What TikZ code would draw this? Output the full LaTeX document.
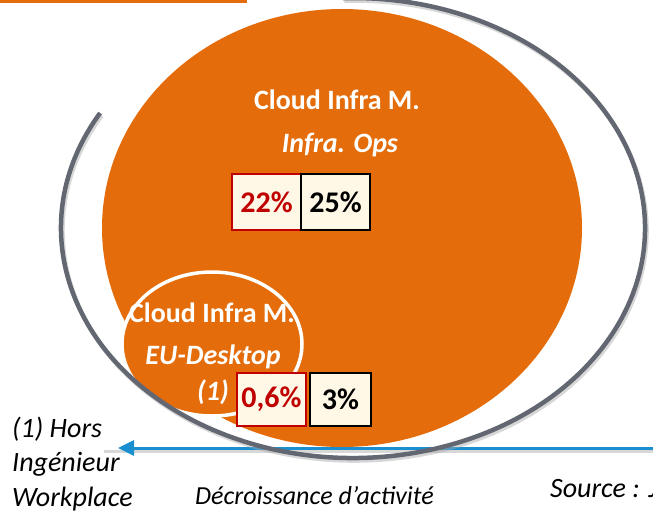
\documentclass[tikz,border=0pt]{standalone}
\usepackage{fontspec}
\setmainfont{Carlito}
\usetikzlibrary{arrows.meta}
\definecolor{org}{HTML}{E46C0A}
\definecolor{ringgray}{HTML}{626771}
\definecolor{arrblue}{HTML}{1A8FD0}
\definecolor{cream}{HTML}{FFF8E6}
\definecolor{darkred}{HTML}{C00000}
\tikzset{
  lbl/.style={text=white, font=\fontsize{28}{32}\selectfont\bfseries, inner sep=0pt},
  lbli/.style={text=white, font=\fontsize{28}{32}\selectfont\bfseries\itshape, inner sep=0pt},
  pct/.style={fill=cream, line width=1.5pt, inner sep=0pt, minimum height=56pt, font=\fontsize{30}{32}\selectfont\bfseries},
  pctred/.style={pct, draw=darkred, text=darkred},
  pctblk/.style={pct, draw=black, text=black},
  note/.style={font=\fontsize{28}{34.5}\selectfont\itshape, inner sep=0pt, text=black},
}
\begin{document}
\begin{tikzpicture}[x=1pt,y=-1pt]
\useasboundingbox (0,0) rectangle (653,512);
% top orange rule
\fill[org] (0,0) rectangle (247,2.5);
% big orange ellipse
\fill[org] (342,228) ellipse [x radius=240pt, y radius=219pt];
% small ellipse
\filldraw[fill=org, draw=white, line width=3.5pt] (212,344) ellipse [x radius=90pt, y radius=72pt];
% blue arrow
\coordinate (ar) at (660,448);
\coordinate (al) at (118,448);
\draw[black!30, line width=3pt, opacity=0.5] ([yshift=-3pt]ar) -- ([yshift=-3pt,xshift=-14pt]al);
\draw[arrblue, line width=3pt, -{Triangle[length=16pt,width=15pt]}] (ar) -- (al);
% gray ring arc
\coordinate (gc) at (353,228);
\draw[black!35, line width=4.5pt, opacity=0.45] ([shift={(1.5pt,-2.5pt)}]gc) ++(150:292pt and 230pt) arc[start angle=150, end angle=452, x radius=292pt, y radius=230pt];
\draw[ringgray, line width=4.5pt] (gc) ++(150:292pt and 230pt) arc[start angle=150, end angle=452, x radius=292pt, y radius=230pt];
% texts in big ellipse
\node[lbl] (t1) at (337,100) {Cloud Infra M.};
\node[lbli] (t2) at (340,145) {Infra. Ops};
\node[pctred, minimum width=69pt] (b1) at (266.5,202) {22\%};
\node[pctblk, minimum width=69pt] (b2) at (335.5,202) {25\%};
% texts in small ellipse
\node[lbl] (s1) at (212,313) {Cloud Infra M.};
\node[lbli] (s2) at (213,357) {EU-Desktop};
\node[lbli] (s3) at (213,392) {(1)};
\node[pctred, minimum width=69pt, minimum height=53pt] (b3) at (271.5,399.5) {0,6\%};
\node[pctblk, minimum width=61pt, minimum height=53pt] (b4) at (340.5,399.5) {3\%};
% notes
\node[note, anchor=base west] (n1a) at (12,437) {(1) Hors};
\node[note, anchor=base west] (n1b) at (12,471.5) {Ingénieur};
\node[note, anchor=base west] (n1c) at (12,506) {Workplace};
\node[note, font=\fontsize{26}{30}\selectfont\itshape, anchor=base west] (n2) at (195,504) {Décroissance d’activité};
\node[note, anchor=base west] (n3) at (550,497) {Source : J};
\end{tikzpicture}
\end{document}
